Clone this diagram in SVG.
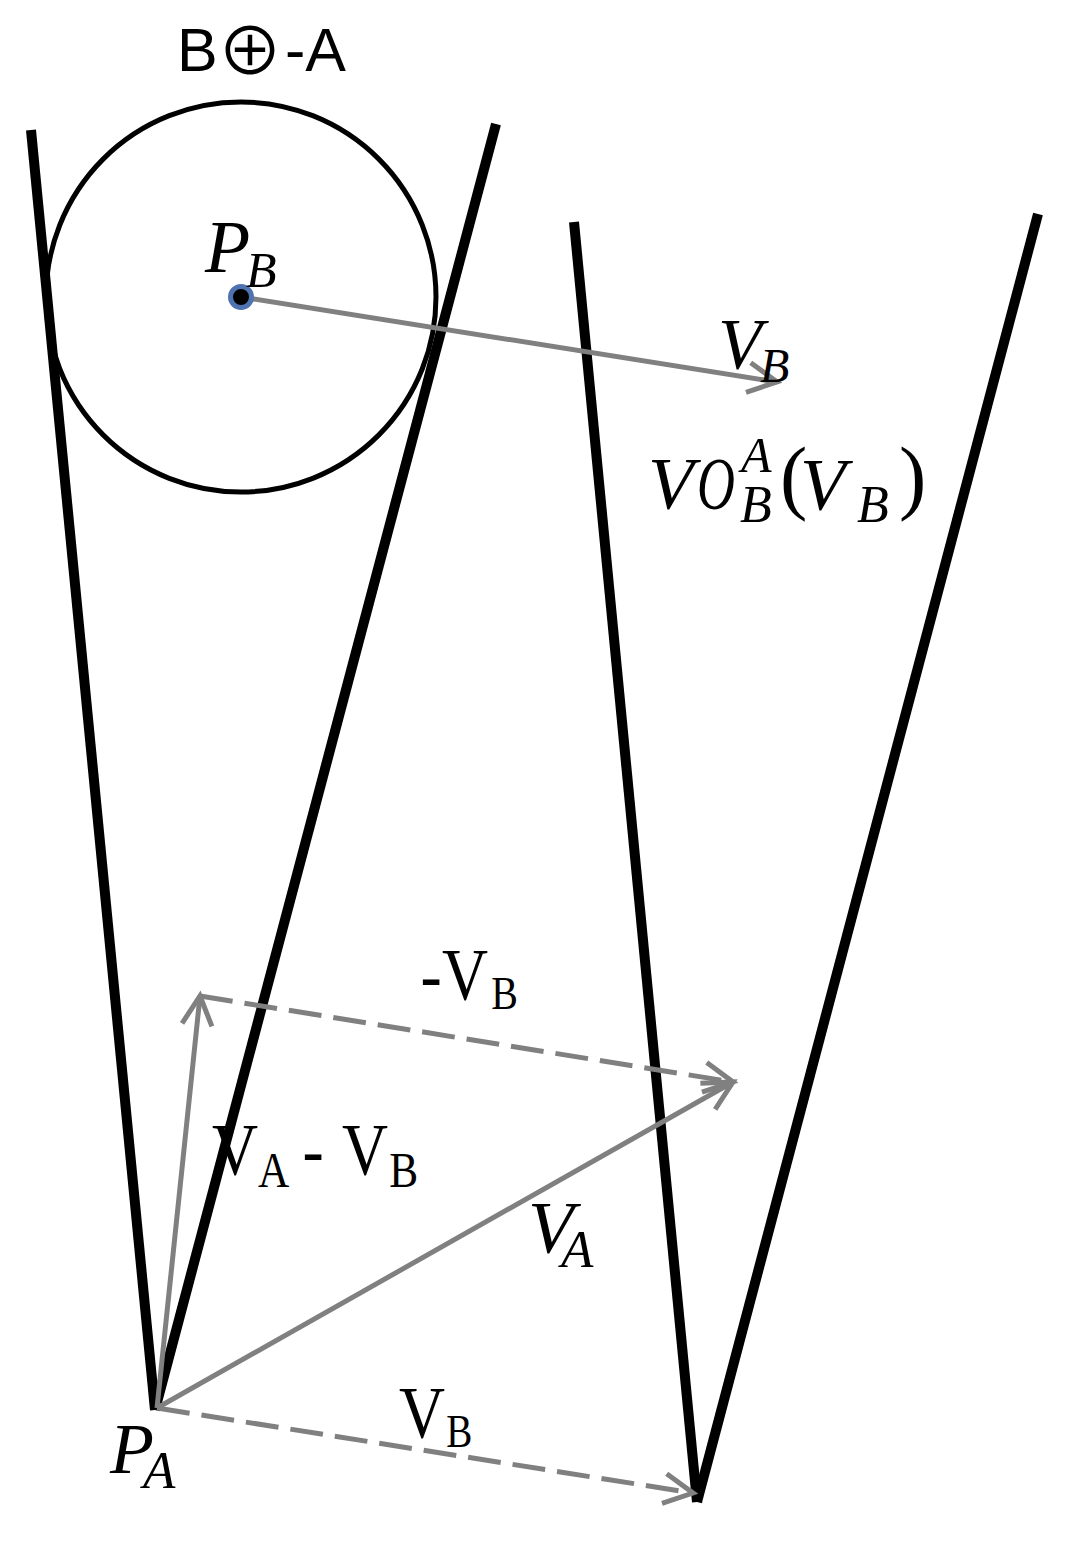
<svg xmlns="http://www.w3.org/2000/svg" width="1066" height="1542" viewBox="0 0 1066 1542">
<style>
.cone{stroke:#000;stroke-width:10;fill:none;stroke-linecap:butt}
.vec{stroke:#808080;stroke-width:5;fill:none}
.dash{stroke-dasharray:33 12}
.it{font-family:"Liberation Serif","Times New Roman",serif;font-style:italic;fill:#000}
.up{font-family:"Liberation Serif","Times New Roman",serif;fill:#000}
.sans{font-family:"Liberation Sans",Arial,"Noto Sans CJK SC",sans-serif;fill:#000}
</style>
<defs>
<marker id="arr" markerUnits="userSpaceOnUse" viewBox="-36 -20 40 40" refX="0" refY="0" markerWidth="40" markerHeight="40" orient="auto" overflow="visible">
<path d="M-29,-15 L0,0 L-29,15" fill="none" stroke="#808080" stroke-width="5" stroke-linejoin="miter"/>
</marker>
</defs>
<rect width="1066" height="1542" fill="#fff"/>
<g id="cone-left">
<line class="cone" x1="31" y1="130" x2="155" y2="1410"/>
<line class="cone" x1="496" y1="124" x2="155" y2="1410"/>
</g>
<g id="cone-right">
<line class="cone" x1="574" y1="222" x2="697" y2="1502"/>
<line class="cone" x1="1038" y1="214" x2="697" y2="1502"/>
</g>
<g id="disk-B">
<circle cx="241" cy="297" r="195" fill="none" stroke="#000" stroke-width="5"/>
</g>
<g id="title">
<text class="sans" font-size="61"><tspan x="177" y="71">B</tspan><tspan x="217" y="75" font-size="66" font-family="Noto Sans CJK SC, sans-serif">⊕</tspan><tspan x="285" y="71">-A</tspan></text>
</g>
<g id="connectors">
<line class="vec" x1="241" y1="297" x2="777" y2="382" marker-end="url(#arr)"/>
<line class="vec" x1="157" y1="1408" x2="200" y2="996" marker-end="url(#arr)"/>
<line class="vec dash" x1="200" y1="996" x2="733" y2="1082" marker-end="url(#arr)"/>
<line class="vec" x1="157" y1="1408" x2="733" y2="1082" marker-end="url(#arr)"/>
<line class="vec dash" x1="157" y1="1408" x2="693" y2="1493" marker-end="url(#arr)"/>
</g>
<g id="node-PB">
<circle cx="241" cy="297" r="10.5" fill="#000" stroke="#4f73b0" stroke-width="5"/>
<text class="it" font-size="74"><tspan x="205" y="272">P</tspan><tspan x="246" y="287" font-size="50">B</tspan></text>
</g>
<g id="label-VB-top">
<text class="it" font-size="72"><tspan x="718" y="368">V</tspan><tspan x="760" y="382" font-size="48">B</tspan></text>
</g>
<g id="label-VO">
<text class="it" font-size="75"><tspan x="648" y="509">V</tspan><tspan x="697" y="509" textLength="38" lengthAdjust="spacingAndGlyphs">O</tspan><tspan x="741" y="472" font-size="50">A</tspan><tspan x="740" y="522" font-size="52">B</tspan><tspan x="780" y="504" font-size="82" font-style="normal">(</tspan><tspan x="800" y="510">V</tspan><tspan x="857" y="522" font-size="52">B</tspan><tspan x="899" y="504" font-size="82" font-style="normal">)</tspan></text>
</g>
<g id="label-negVB">
<text class="up" font-size="75" transform="scale(0.85,1)"><tspan x="494.7" y="1000">-</tspan><tspan x="520" y="1000">V</tspan><tspan x="578" y="1009" font-size="47">B</tspan></text>
</g>
<g id="label-VA-VB">
<text class="up" font-size="75" transform="scale(0.85,1)"><tspan x="249.4" y="1175">V</tspan><tspan x="303.5" y="1187" font-size="51">A </tspan><tspan x="355.9" y="1175">- </tspan><tspan x="402.4" y="1175">V</tspan><tspan x="458" y="1187" font-size="51">B</tspan></text>
</g>
<g id="label-VA">
<text class="it" font-size="75"><tspan x="528" y="1253">V</tspan><tspan x="561" y="1267" font-size="53">A</tspan></text>
</g>
<g id="node-PA">
<text class="it" font-size="72"><tspan x="110" y="1473">P</tspan><tspan x="143" y="1488" font-size="53">A</tspan></text>
</g>
<g id="label-VB-bottom">
<text class="up" font-size="75" transform="scale(0.85,1)"><tspan x="469.4" y="1438">V</tspan><tspan x="525" y="1447" font-size="46">B</tspan></text>
</g>
</svg>
